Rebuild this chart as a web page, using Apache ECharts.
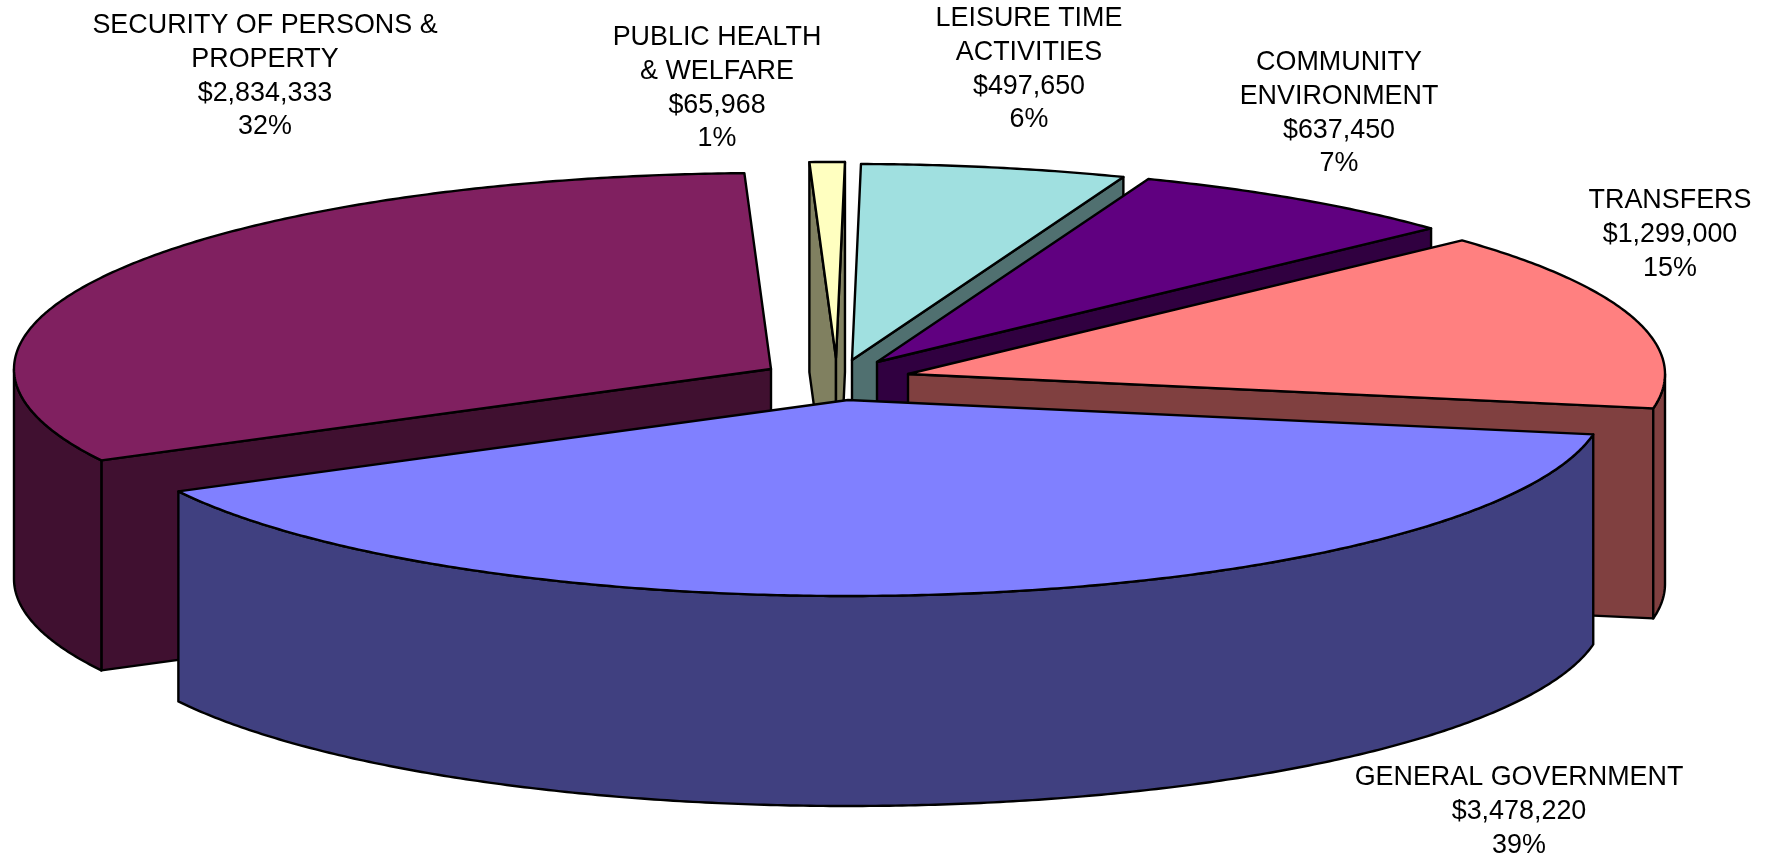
<!DOCTYPE html>
<html>
<head>
<meta charset="utf-8">
<script src="https://cdn.jsdelivr.net/npm/echarts@6/dist/echarts.min.js"></script>
<style>
  html, body { margin: 0; padding: 0; background: #fff; }
  #chart { width: 1769px; height: 858px; }
</style>
</head>
<body>
<div id="chart"></div>
<script>
// drawn back to front, GENERAL GOVERNMENT goes on top of everything
const categories = [
  'SECURITY OF PERSONS &\nPROPERTY',
  'PUBLIC HEALTH\n& WELFARE',
  'LEISURE TIME\nACTIVITIES',
  'COMMUNITY\nENVIRONMENT',
  'TRANSFERS',
  'GENERAL GOVERNMENT'
];
const values = [2834333, 65968, 497650, 637450, 1299000, 3478220];

const topColors = ['#802060', '#FFFFC0', '#A0E0E0', '#600080', '#FF8080', '#8080FF'];
const sideColors = ['#401030', '#808060', '#507070', '#300040', '#804040', '#404080'];

// where each exploded slice has its tip
const tipX = [771, 836, 852, 877, 908, 848];
const tipY = [369, 358, 360, 362, 374, 400];

// centre x and first line y of each label
const labelX = [265, 717, 1029, 1339, 1670, 1519];
const labelY = [26, 38, 19, 63, 201, 778];

const RX = 757;
const RY = 196;
const DEPTH = 210;
const START_DEG = 152.2;
const FONT_SIZE = 26.9;
const LINE_HEIGHT = 33.6;

const total = values.reduce((a, b) => a + b, 0);
const rad = d => d * Math.PI / 180;

function labelText(i) {
  const pct = Math.round(values[i] / total * 100);
  return categories[i] + '\n$' + values[i].toLocaleString('en-US') + '\n' + pct + '%';
}

function arcPoints(cx, cy, from, to) {
  const pts = [];
  const steps = Math.max(2, Math.ceil((to - from) / 0.5));
  for (let i = 0; i <= steps; i++) {
    const t = rad(from + (to - from) * i / steps);
    pts.push([cx + RX * Math.cos(t), cy + RY * Math.sin(t)]);
  }
  return pts;
}

function face(points, fill) {
  return {
    type: 'polygon',
    shape: { points: points },
    style: { fill: fill, stroke: '#000', lineWidth: 2.4, lineJoin: 'round' }
  };
}

function renderSlice(params, api) {
  const i = params.dataIndex;
  let before = 0;
  for (let k = 0; k < i; k++) before += values[k];
  const t0 = START_DEG + before / total * 360;
  const t1 = t0 + api.value(0) / total * 360;
  const cx = tipX[i];
  const cy = tipY[i];
  const children = [];

  const wall = t => {
    const x = cx + RX * Math.cos(rad(t));
    const y = cy + RY * Math.sin(rad(t));
    return face([[cx, cy], [x, y], [x, y + DEPTH], [cx, cy + DEPTH]], sideColors[i]);
  };
  // cut faces only show when they turn towards the viewer
  if (Math.cos(rad(t0)) < 0) children.push(wall(t0));
  if (Math.cos(rad(t1)) > 0) children.push(wall(t1));

  // rim, only the part on the near half of the ellipse
  [[0, 180], [360, 540]].forEach(r => {
    const from = Math.max(t0, r[0]);
    const to = Math.min(t1, r[1]);
    if (to <= from) return;
    const top = arcPoints(cx, cy, from, to);
    const bottom = top.map(p => [p[0], p[1] + DEPTH]).reverse();
    children.push(face(top.concat(bottom), sideColors[i]));
  });

  children.push(face([[cx, cy]].concat(arcPoints(cx, cy, t0, t1)), topColors[i]));

  children.push({
    type: 'text',
    x: labelX[i],
    y: labelY[i] - LINE_HEIGHT / 2,
    z2: 100,
    style: {
      text: labelText(i),
      fill: '#000',
      font: FONT_SIZE + 'px "Liberation Sans", Arial, sans-serif',
      align: 'center',
      verticalAlign: 'top',
      lineHeight: LINE_HEIGHT
    }
  });

  return { type: 'group', children: children };
}

const chart = echarts.init(document.getElementById('chart'));
chart.setOption({
  backgroundColor: '#fff',
  animation: false,
  series: [{
    type: 'custom',
    coordinateSystem: 'none',
    silent: true,
    clip: false,
    data: values.map(v => [v]),
    renderItem: renderSlice
  }]
});
</script>
</body>
</html>
